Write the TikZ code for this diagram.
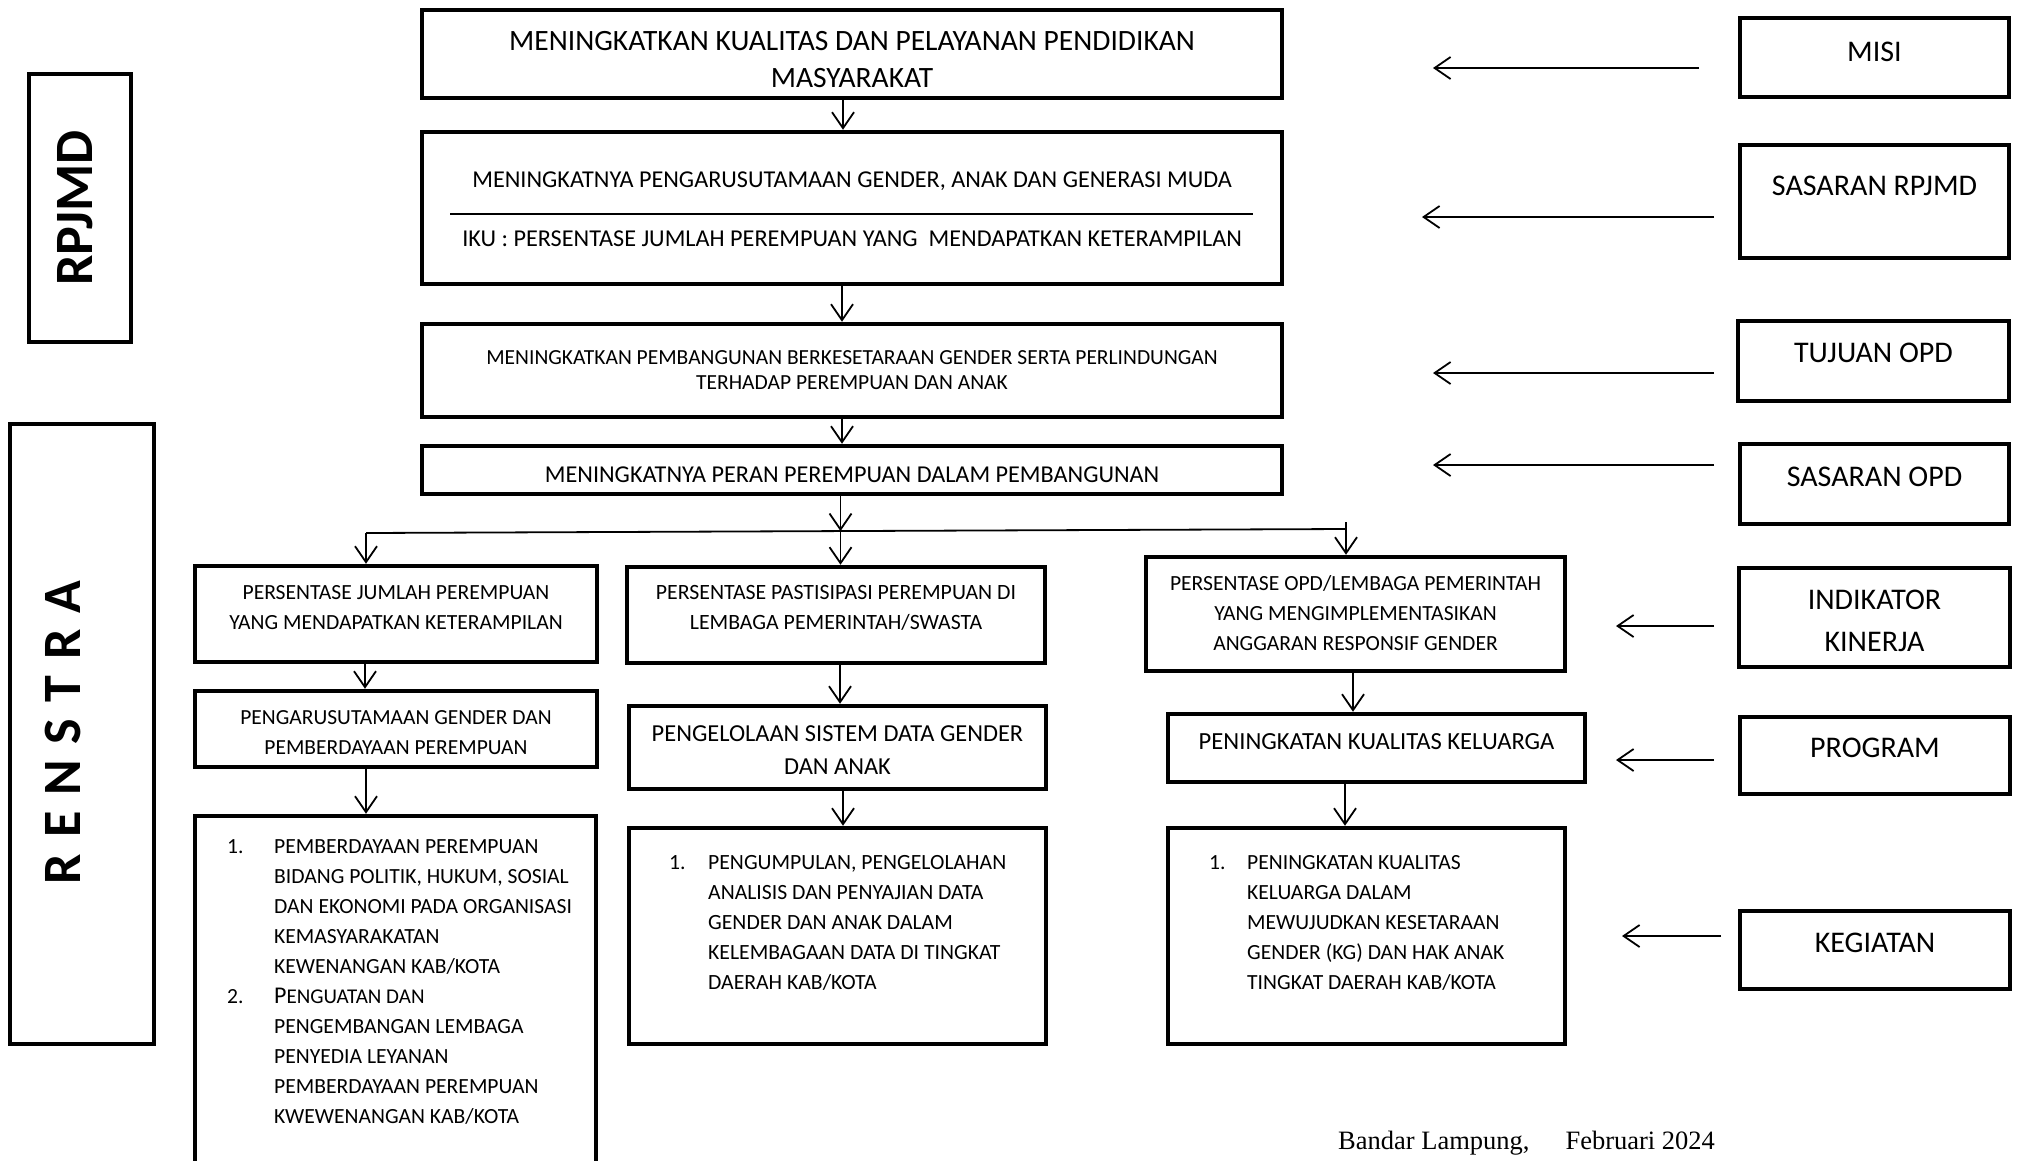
\documentclass[tikz,border=0pt]{standalone}
\usepackage{fontspec}
\setmainfont{Carlito}
\newfontfamily\footfont{Liberation Serif}
\usetikzlibrary{arrows.meta}
\newcommand{\lnum}[2]{\makebox[#1][l]{#2}}
\newcommand{\lind}[1]{\hspace*{#1}}

\begin{document}
\begin{tikzpicture}[x=1pt, y=-1pt,
    box/.style={draw, line width=4.5pt, inner sep=0pt},
    txt/.style={inner sep=0pt, align=center},
    arr/.style={line width=1.8pt, -{Straight Barb[length=16pt,width=22pt]}}]
    \useasboundingbox (0,0) rectangle (2022,1160);
    % side labels
    \node[box, minimum width=102pt, minimum height=268pt] (rpjmd) at (80,208) {};
    \node[txt, rotate=90, font=\fontsize{54}{60}\selectfont\bfseries] (rpjmdT) at (75,208) {RPJMD};
    \node[box, minimum width=144pt, minimum height=620pt] (renstra) at (82,734) {};
    \node[txt, rotate=90, font=\fontsize{54}{60}\selectfont\bfseries] (renstraT) at (63,732.5)
        {R\hspace{16pt}E\hspace{16pt}N\hspace{16pt}S\hspace{16pt}T\hspace{16pt}R\hspace{16pt}A};
    % RPJMD column
    \node[box, minimum width=860pt, minimum height=88pt] (misi) at (852,54) {};
    \node[txt, font=\fontsize{29.5}{37}\selectfont] (misiT) at (852,59.5)
        {MENINGKATKAN KUALITAS DAN PELAYANAN PENDIDIKAN\\MASYARAKAT};
    \node[box, minimum width=860pt, minimum height=152pt] (sasaran) at (852,208) {};
    \node[txt, anchor=base, font=\fontsize{24.2}{28}\selectfont] (sasT) at (852,187.5)
        {MENINGKATNYA PENGARUSUTAMAAN GENDER, ANAK DAN GENERASI MUDA};
    \node[txt, anchor=base, font=\fontsize{24.2}{28}\selectfont] (ikuT) at (852,246.5)
        {IKU : PERSENTASE JUMLAH PEREMPUAN YANG~~MENDAPATKAN KETERAMPILAN};
    \draw[line width=1.5pt] (450,214) -- (1253,214);
    \node[box, minimum width=860pt, minimum height=93pt] (tujuan) at (852,370.5) {};
    \node[txt, font=\fontsize{21.5}{25}\selectfont] (tujuanT) at (852,370)
        {MENINGKATKAN PEMBANGUNAN BERKESETARAAN GENDER SERTA PERLINDUNGAN\\TERHADAP PEREMPUAN DAN ANAK};
    \node[box, minimum width=860pt, minimum height=48pt] (sasopd) at (852,470) {};
    \node[txt, anchor=base, font=\fontsize{24.2}{28}\selectfont] (sasopdT) at (852,482.5)
        {MENINGKATNYA PERAN PEREMPUAN DALAM PEMBANGUNAN};
    % indikator kinerja
    \node[box, minimum width=402pt, minimum height=96pt] (ind1) at (396,614) {};
    \node[txt, font=\fontsize{21.6}{30}\selectfont] (ind1T) at (396,608)
        {PERSENTASE JUMLAH PEREMPUAN\\YANG MENDAPATKAN KETERAMPILAN};
    \node[box, minimum width=418pt, minimum height=96pt] (ind2) at (836,615) {};
    \node[txt, font=\fontsize{21.8}{30}\selectfont] (ind2T) at (836,608)
        {PERSENTASE PASTISIPASI PEREMPUAN DI\\LEMBAGA PEMERINTAH/SWASTA};
    \node[box, minimum width=419pt, minimum height=114pt] (ind3) at (1355.5,614) {};
    \node[txt, font=\fontsize{21.6}{30}\selectfont] (ind3T) at (1355.5,613)
        {PERSENTASE OPD/LEMBAGA PEMERINTAH\\YANG MENGIMPLEMENTASIKAN\\ANGGARAN RESPONSIF GENDER};
    % program
    \node[box, minimum width=402pt, minimum height=76pt] (prog1) at (396,729) {};
    \node[txt, font=\fontsize{21.5}{30}\selectfont] (prog1T) at (396,733)
        {PENGARUSUTAMAAN GENDER DAN\\PEMBERDAYAAN PEREMPUAN};
    \node[box, minimum width=417pt, minimum height=83pt] (prog2) at (837.5,747.5) {};
    \node[txt, font=\fontsize{24.4}{33}\selectfont] (prog2T) at (837.5,750.5)
        {PENGELOLAAN SISTEM DATA GENDER\\DAN ANAK};
    \node[box, minimum width=417pt, minimum height=68pt] (prog3) at (1376.5,748) {};
    \node[txt, anchor=base, font=\fontsize{24.6}{30}\selectfont] (prog3T) at (1376.5,749.5)
        {PENINGKATAN KUALITAS KELUARGA};
    % kegiatan
    \node[box, minimum width=401pt, minimum height=374pt] (keg1) at (395.5,1003) {};
    \node[inner sep=0pt, align=left, anchor=north west, font=\fontsize{21.6}{30}\selectfont] (keg1T) at (227,839)
        {\lnum{47pt}{1.}PEMBERDAYAAN PEREMPUAN\\
         \lind{47pt}BIDANG POLITIK, HUKUM, SOSIAL\\
         \lind{47pt}DAN EKONOMI PADA ORGANISASI\\
         \lind{47pt}KEMASYARAKATAN\\
         \lind{47pt}KEWENANGAN KAB/KOTA\\
         \lnum{47pt}{2.}{\fontsize{24}{30}\selectfont P}{\fontsize{21}{30}\selectfont ENGUATAN DAN}\\
         \lind{47pt}PENGEMBANGAN LEMBAGA\\
         \lind{47pt}PENYEDIA LEYANAN\\
         \lind{47pt}PEMBERDAYAAN PEREMPUAN\\
         \lind{47pt}KWEWENANGAN KAB/KOTA};
    \node[box, minimum width=417pt, minimum height=216pt] (keg2) at (837.5,936) {};
    \node[inner sep=0pt, align=left, anchor=north west, font=\fontsize{21.7}{30}\selectfont] (keg2T) at (669,855)
        {\lnum{39pt}{1.}PENGUMPULAN, PENGELOLAHAN\\
         \lind{39pt}ANALISIS DAN PENYAJIAN DATA\\
         \lind{39pt}GENDER DAN ANAK DALAM\\
         \lind{39pt}KELEMBAGAAN DATA DI TINGKAT\\
         \lind{39pt}DAERAH KAB/KOTA};
    \node[box, minimum width=397pt, minimum height=216pt] (keg3) at (1366.5,936) {};
    \node[inner sep=0pt, align=left, anchor=north west, font=\fontsize{21.6}{30}\selectfont] (keg3T) at (1209,855)
        {\lnum{38pt}{1.}PENINGKATAN KUALITAS\\
         \lind{38pt}KELUARGA DALAM\\
         \lind{38pt}MEWUJUDKAN KESETARAAN\\
         \lind{38pt}GENDER (KG) DAN HAK ANAK\\
         \lind{38pt}TINGKAT DAERAH KAB/KOTA};
    % right legend
    \node[box, minimum width=269pt, minimum height=79pt] (lblMisi) at (1874.5,57.5) {};
    \node[txt, anchor=base, font=\fontsize{30}{36}\selectfont] (lblMisiT) at (1874.5,61.5) {MISI};
    \node[box, minimum width=269pt, minimum height=113pt] (lblSas) at (1874.5,201.5) {};
    \node[txt, anchor=base, font=\fontsize{30}{36}\selectfont] (lblSasT) at (1874.5,195.5) {SASARAN RPJMD};
    \node[box, minimum width=271pt, minimum height=80pt] (lblTuj) at (1873.5,361) {};
    \node[txt, anchor=base, font=\fontsize{30}{36}\selectfont] (lblTujT) at (1873.5,362.5) {TUJUAN OPD};
    \node[box, minimum width=269pt, minimum height=80pt] (lblSopd) at (1874.5,484) {};
    \node[txt, anchor=base, font=\fontsize{30}{36}\selectfont] (lblSopdT) at (1874.5,486.5) {SASARAN OPD};
    \node[box, minimum width=271pt, minimum height=99pt] (lblInd) at (1874.5,617.5) {};
    \node[txt, font=\fontsize{30}{42}\selectfont] (lblIndT) at (1874.5,621) {INDIKATOR\\KINERJA};
    \node[box, minimum width=270pt, minimum height=77pt] (lblProg) at (1875,755.5) {};
    \node[txt, anchor=base, font=\fontsize{30}{36}\selectfont] (lblProgT) at (1875,757.5) {PROGRAM};
    \node[box, minimum width=270pt, minimum height=78pt] (lblKeg) at (1875,950) {};
    \node[txt, anchor=base, font=\fontsize{30}{36}\selectfont] (lblKegT) at (1875,952.5) {KEGIATAN};
    % legend arrows (pointing left)
    \foreach \n/\xa/\xb/\y in {misi/1699/1433/68, sas/1714/1422/217, tuj/1714/1433/373,
        sopd/1714/1433/465, ind/1714/1616/626, prog/1714/1616/760, keg/1721/1622/936}{%
        \coordinate (\n A) at (\xa,\y);
        \coordinate (\n B) at (\xb,\y);
        \draw[arr] (\n A) -- (\n B);
    }
    % main column
    \draw[arr] ([xshift=-9pt]misi.south) -- ([xshift=-9pt]sasaran.north);
    \draw[arr] ([xshift=-10pt]sasaran.south) -- ([xshift=-10pt]tujuan.north);
    \draw[arr] ([xshift=-10pt]tujuan.south) -- ([xshift=-10pt]sasopd.north);
    % branch to the three indicators
    \coordinate (brL) at (366,533);
    \coordinate (brM) at (840.5,531.1);
    \coordinate (brR) at (1346,529);
    \coordinate (brT) at (1346,522);
    \draw[line width=1.8pt] (brL) -- (brR);
    \draw[arr] ([xshift=-11.5pt]sasopd.south) -- (brM);
    \draw[arr] (brM) -- ([xshift=4.5pt]ind2.north);
    \draw[arr] (brL) -- ([xshift=-30pt]ind1.north);
    \draw[arr] (brT) -- ([xshift=-9.5pt]ind3.north);
    % columns
    \draw[arr] ([xshift=-31pt]ind1.south) -- ([xshift=-31pt]prog1.north);
    \draw[arr] ([xshift=-30pt]prog1.south) -- ([xshift=-29.5pt]keg1.north);
    \draw[arr] ([xshift=4pt]ind2.south) -- ([xshift=2.5pt]prog2.north);
    \draw[arr] ([xshift=5.5pt]prog2.south) -- ([xshift=5.5pt]keg2.north);
    \draw[arr] ([xshift=-2.5pt]ind3.south) -- ([xshift=-23.5pt]prog3.north);
    \draw[arr] ([xshift=-31.5pt]prog3.south) -- ([xshift=-21.5pt]keg3.north);
    % date
    \node[inner sep=0pt, anchor=base west, font=\footfont\fontsize{26.5}{30}\selectfont] (tgl) at (1338,1149)
        {Bandar Lampung,\hspace{36pt}Februari 2024};
\end{tikzpicture}
\end{document}
